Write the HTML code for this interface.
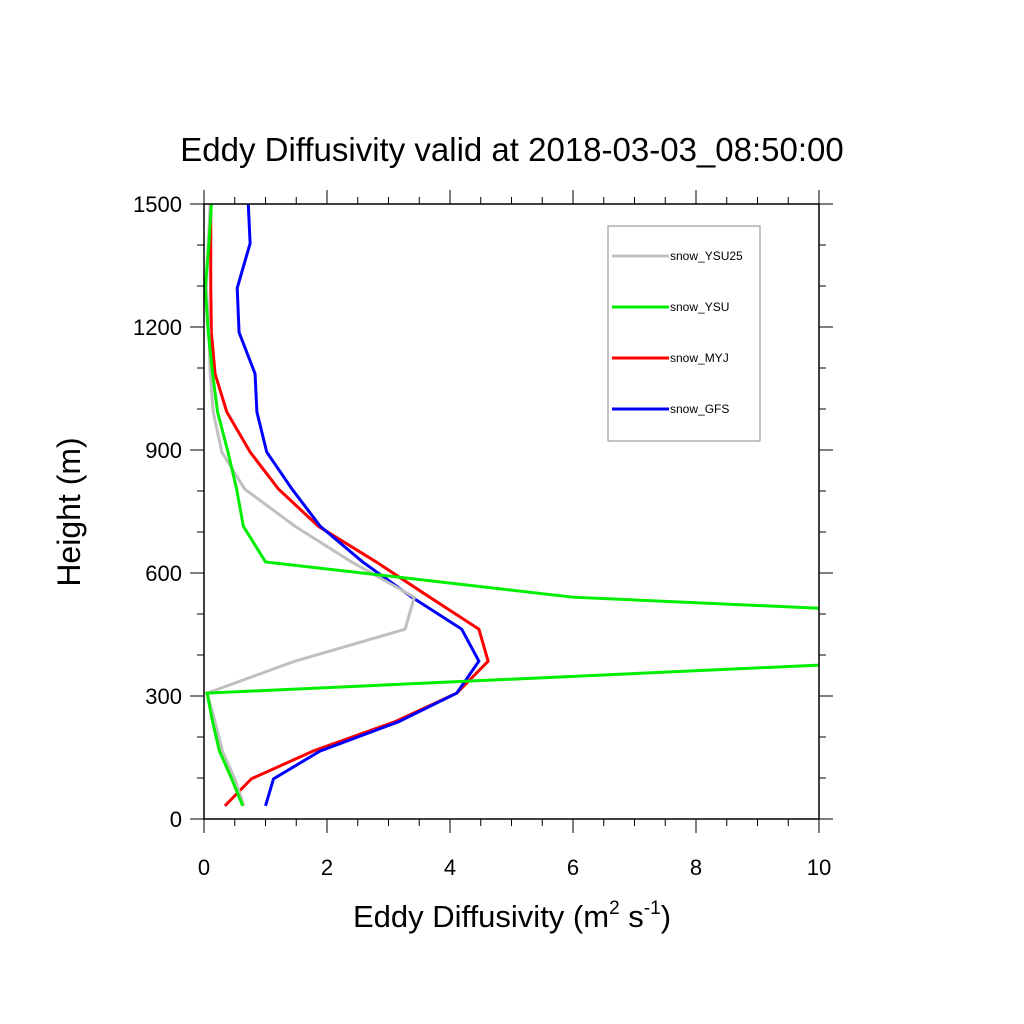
<!DOCTYPE html>
<html><head><meta charset="utf-8"><style>body{margin:0;background:#fff}svg{display:block}</style></head>
<body>
<svg id="chart" width="1024" height="1024" xmlns="http://www.w3.org/2000/svg" font-family="Liberation Sans, sans-serif">
<rect width="1024" height="1024" fill="#fff"/>
<text x="512" y="161" font-size="33" text-anchor="middle">Eddy Diffusivity valid at 2018-03-03_08:50:00</text>
<g id="axes"></g>
<defs><clipPath id="pc"><rect x="204" y="204" width="615" height="615"/></clipPath></defs>
<g id="series" clip-path="url(#pc)"></g>
<rect x="204" y="204" width="615" height="615" fill="none" stroke="#000" stroke-width="1.5"/>
<text transform="translate(80,512) rotate(-90)" font-size="32" text-anchor="middle">Height (m)</text>
<text x="512" y="927" font-size="31" text-anchor="middle">Eddy Diffusivity (m<tspan font-size="19" dy="-13">2</tspan><tspan dy="13"> s</tspan><tspan font-size="19" dy="-13">-1</tspan><tspan dy="13">)</tspan></text>
<g id="legend">
<rect x="608" y="226" width="152" height="215" fill="#fff" stroke="#888" stroke-width="1"/>
</g>
</svg>
<script>
const heights=[32,98,166,237,307,385,463,541,627,714,805,895,993,1086,1187,1295,1404,1500];
const ysu25=[0.65,0.5,0.3,0.18,0.05,1.48,3.27,3.42,2.4,1.48,0.66,0.29,0.15,0.1,0.08,0.04,0.07,0.1];
const ysu=[0.63,0.45,0.25,0.14,0.05,11.4,17.6,6.0,1.0,0.64,0.53,0.39,0.22,0.14,0.07,0.02,0.08,0.12];
const myj=[0.34,0.77,1.78,3.1,4.11,4.62,4.47,3.67,2.8,1.86,1.21,0.75,0.37,0.18,0.12,0.11,0.11,0.11];
const gfs=[1.0,1.13,1.89,3.16,4.11,4.47,4.19,3.38,2.58,1.89,1.43,1.02,0.86,0.83,0.57,0.54,0.75,0.72];
const seriesNames=["snow_YSU25","snow_YSU","snow_MYJ","snow_GFS"];
const xTicks=[0,2,4,6,8,10];
const yTicks=[0,300,600,900,1200,1500];
const NS="http://www.w3.org/2000/svg";
const X=v=>204+v*61.5, Y=h=>819-h*0.41;
function mk(t,a,p){const e=document.createElementNS(NS,t);for(const k in a)e.setAttribute(k,a[k]);p.appendChild(e);return e;}
const ax=document.getElementById('axes');
for(let v=0;v<=10.001;v+=0.5){const maj=Math.abs(v/2-Math.round(v/2))<1e-6;const L=maj?14:7;
 let t=mk('line',{x1:X(v),x2:X(v),y1:819,y2:819+L,stroke:'#000','stroke-width':1},ax);
 
 
 t=mk('line',{x1:X(v),x2:X(v),y1:204,y2:204-L,stroke:'#000','stroke-width':1},ax);
 
 }
for(let h=0;h<=1500;h+=100){const maj=h%300===0;const L=maj?14:7;
 let t=mk('line',{x1:204,x2:204-L,y1:Y(h),y2:Y(h),stroke:'#000','stroke-width':1},ax);
 
 
 t=mk('line',{x1:819,x2:819+L,y1:Y(h),y2:Y(h),stroke:'#000','stroke-width':1},ax);
 
 }
xTicks.forEach(v=>{const t=mk('text',{x:X(v),y:875,'font-size':22,'text-anchor':'middle'},ax);t.textContent=v;
 
 });
yTicks.forEach(h=>{const t=mk('text',{x:182,y:Y(h)+8,'font-size':22,'text-anchor':'end'},ax);t.textContent=h;
 
 });
const sg=document.getElementById('series');
const all=[[ysu25,'#c0c0c0'],[ysu,'#00ee00'],[myj,'#ff0000'],[gfs,'#0000ff']];
[2,3,0,1].forEach(i=>{const [d,c]=all[i];
 const p=mk('polyline',{points:d.map((v,j)=>X(v)+','+Y(heights[j])).join(' '),fill:'none',stroke:c,'stroke-width':3,'stroke-linejoin':'miter'},sg);
 
 });
const lg=document.getElementById('legend');
seriesNames.forEach((n,i)=>{const y=256+i*51;
 const l=mk('line',{x1:612,x2:669,y1:y,y2:y,stroke:all[i][1],'stroke-width':3},lg);
 
 
 const t=mk('text',{x:670,y:y+4,'font-size':12},lg);t.textContent=n;
 
 });
</script>
</body></html>
